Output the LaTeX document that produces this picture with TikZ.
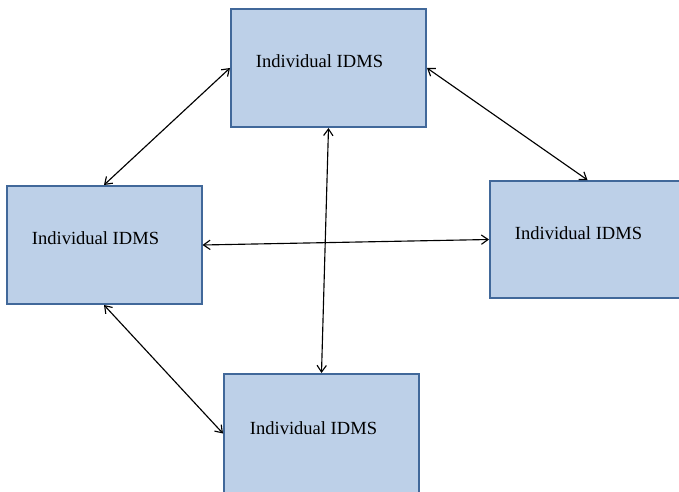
\documentclass[tikz,border=0pt]{standalone}
\usepackage{fontspec}
\setmainfont{Liberation Serif}
\usetikzlibrary{arrows.meta}
\definecolor{boxfill}{HTML}{BDD0E8}
\definecolor{boxedge}{HTML}{41689A}
\tikzset{
  idms/.style={draw=boxedge, line width=1.5pt, fill=boxfill, rectangle,
    minimum width=195*0.75pt, minimum height=118*0.75pt, inner sep=0pt},
  txt/.style={font=\fontsize{13.9}{16}\selectfont, inner sep=0pt},
  link/.style={<->, line width=0.85pt, >={Straight Barb[length=5pt,width=7pt]}}
}
\begin{document}
\begin{tikzpicture}[x=0.75pt, y=-0.75pt]
  \useasboundingbox (0,0) rectangle (679,492);
  % the four system boxes (right and bottom ones run past the page edge)
  \node[idms] (top)    at (328.5, 68)   {};
  \node[idms] (left)   at (104, 245)    {};
  \node[idms, minimum height=117*0.75pt] (right)  at (587.5, 239.5) {};
  \node[idms, minimum height=124*0.75pt] (bottom) at (321.5, 436)  {};
  % captions
  \node[txt] (ttop)    at (319.5, 61)  {Individual IDMS};
  \node[txt] (tleft)   at (95.5, 238)  {Individual IDMS};
  \node[txt] (tright)  at (578.5, 233) {Individual IDMS};
  \node[txt] (tbottom) at (313.5, 428) {Individual IDMS};
  % two-way links
  \draw[link] (top.west) -- (left.north);
  \draw[link] (top.east) -- (right.north);
  \draw[link] (top.south) -- (bottom.north);
  \draw[link] (left.east) -- (right.west);
  \draw[link] (left.south) -- ([yshift=2.5*0.75pt]bottom.west);
\end{tikzpicture}
\end{document}
